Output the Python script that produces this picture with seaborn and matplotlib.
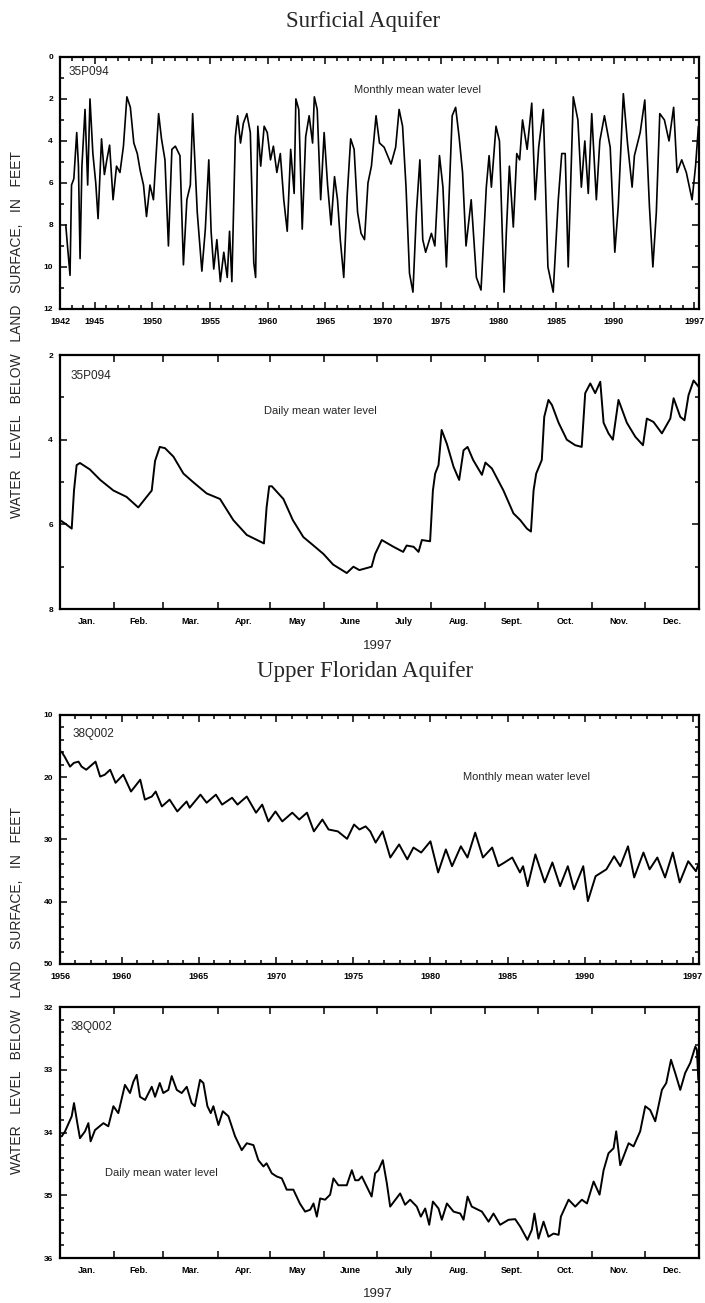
import numpy as np
import pandas as pd
import matplotlib
matplotlib.use('Agg')
import matplotlib.pyplot as plt
import seaborn as sns
from matplotlib.ticker import MultipleLocator

sns.set_theme(style='ticks')
plt.rcParams['font.family'] = ['Liberation Sans', 'DejaVu Sans']

# 35P094 月均水位（地表以下，英尺），读图估计
surf_month_year = [1942.5, 1942.65, 1942.87, 1943.0, 1943.2, 1943.45, 1943.6, 1943.74, 1943.9,
                   1944.17, 1944.4, 1944.6, 1944.85, 1945.1, 1945.3, 1945.6, 1945.85, 1946.06,
                   1946.3, 1946.6, 1946.9, 1947.2, 1947.5, 1947.8, 1948.1, 1948.4, 1948.7,
                   1948.95, 1949.24, 1949.5, 1949.8, 1950.1, 1950.55, 1950.8, 1951.1, 1951.4,
                   1951.7, 1952.0, 1952.4, 1952.7, 1953.0, 1953.3, 1953.5, 1953.9, 1954.3,
                   1954.6, 1954.9, 1955.1, 1955.33, 1955.6, 1955.9, 1956.2, 1956.5, 1956.7,
                   1956.9, 1957.2, 1957.4, 1957.65, 1957.9, 1958.2, 1958.5, 1958.8, 1958.96,
                   1959.15, 1959.4, 1959.7, 1959.97, 1960.25, 1960.5, 1960.8, 1961.1, 1961.4,
                   1961.7, 1962.0, 1962.3, 1962.45, 1962.7, 1963.0, 1963.3, 1963.6, 1963.9,
                   1964.05, 1964.3, 1964.6, 1964.9, 1965.2, 1965.5, 1965.8, 1966.06, 1966.3,
                   1966.6, 1966.9, 1967.2, 1967.5, 1967.8, 1968.1, 1968.4, 1968.7, 1969.0,
                   1969.4, 1969.7, 1970.1, 1970.4, 1970.7, 1971.1, 1971.4, 1971.7, 1972.0,
                   1972.3, 1972.6, 1972.9, 1973.2, 1973.45, 1973.7, 1974.2, 1974.5, 1974.9,
                   1975.2, 1975.5, 1976.0, 1976.3, 1976.6, 1976.9, 1977.2, 1977.65, 1978.1,
                   1978.5, 1978.96, 1979.2, 1979.4, 1979.8, 1980.1, 1980.5, 1980.7, 1980.96,
                   1981.3, 1981.6, 1981.85, 1982.1, 1982.5, 1982.9, 1983.2, 1983.5, 1983.9,
                   1984.3, 1984.76, 1985.2, 1985.5, 1985.8, 1986.06, 1986.5, 1986.9, 1987.2,
                   1987.5, 1987.8, 1988.1, 1988.5, 1988.8, 1989.2, 1989.7, 1990.1, 1990.4,
                   1990.84, 1991.2, 1991.6, 1991.8, 1992.3, 1992.7, 1993.1, 1993.4, 1993.7,
                   1994.0, 1994.4, 1994.8, 1995.2, 1995.5, 1995.9, 1996.3, 1996.8, 1997.1,
                   1997.35]
surf_month_level = [8.0, 9.0, 10.4, 6.1, 5.8, 3.6, 5.2, 9.6, 5.2,
                    2.5, 6.1, 2.0, 4.6, 6.0, 7.7, 3.9, 5.6, 4.9,
                    4.2, 6.8, 5.2, 5.5, 4.25, 1.9, 2.4, 4.1, 4.6,
                    5.4, 6.1, 7.6, 6.1, 6.8, 2.7, 3.9, 4.9, 9.0,
                    4.4, 4.25, 4.7, 9.9, 6.8, 6.1, 2.7, 7.4, 10.2,
                    8.2, 4.9, 8.3, 10.1, 8.7, 10.7, 9.3, 10.5, 8.3,
                    10.7, 3.8, 2.8, 4.1, 3.15, 2.7, 3.6, 9.8, 10.5,
                    3.3, 5.2, 3.3, 3.6, 4.9, 4.25, 5.5, 4.6, 6.8,
                    8.3, 4.4, 6.5, 2.0, 2.5, 8.2, 3.8, 2.8, 4.1,
                    1.9, 2.5, 6.8, 3.6, 6.1, 8.0, 5.7, 6.8, 8.7,
                    10.5, 6.6, 3.9, 4.4, 7.4, 8.4, 8.7, 6.0, 5.2,
                    2.8, 4.1, 4.3, 4.7, 5.1, 4.3, 2.5, 3.3, 6.2,
                    10.3, 11.2, 7.4, 4.9, 8.7, 9.3, 8.4, 9.0, 4.7,
                    6.2, 10.0, 2.8, 2.4, 3.8, 5.5, 9.0, 6.8, 10.5,
                    11.1, 6.2, 4.7, 6.2, 3.3, 4.0, 11.2, 8.3, 5.2,
                    8.1, 4.6, 4.9, 3.0, 4.4, 2.2, 6.8, 4.3, 2.5,
                    10.0, 11.2, 6.8, 4.6, 4.6, 10.0, 1.9, 3.0, 6.2,
                    4.0, 6.5, 2.7, 6.8, 4.0, 2.8, 4.3, 9.3, 7.1,
                    1.75, 4.1, 6.2, 4.7, 3.6, 2.05, 7.1, 10.0, 7.4,
                    2.7, 3.0, 4.0, 2.4, 5.5, 4.9, 5.5, 6.8, 5.2,
                    3.3]

# 35P094 1997年日均水位
surf_day = [0, 2.9, 6.7, 8, 9.5, 11.4, 17, 23, 30.5, 38, 44.7, 49.5, 52.4, 54.3, 57, 60,
            64.8, 70.5, 76, 83.8, 91.4, 99, 106.7, 116.5, 118, 119.5, 121, 127.6, 133, 139,
            144.8, 150.5, 156, 163.8, 167.6, 171, 178, 180, 183.8, 190.5, 196, 198, 202,
            204.8, 206.7, 211.4, 213, 214.3, 216.2, 218, 221, 224.8, 228, 230.5, 232.8, 236,
            241, 243, 246.7, 253.3, 259, 262.9, 266.7, 269, 270.5, 272, 275.2, 276.6, 279,
            281, 284.8, 289.5, 294.3, 298, 300, 302.9, 305.7, 308.6, 310.5, 313.3, 315.8,
            319, 323.8, 328.6, 333, 335.2, 339, 343.8, 348.6, 350.5, 354.3, 356.7, 359,
            361.9, 364.8]
surf_day_level = [5.9, 5.98, 6.1, 5.2, 4.6, 4.55, 4.7, 4.95, 5.2, 5.35, 5.6, 5.35, 5.2, 4.5, 4.17, 4.2,
                  4.4, 4.8, 5.0, 5.27, 5.4, 5.9, 6.25, 6.45, 5.6, 5.1, 5.1, 5.4, 5.9, 6.3,
                  6.5, 6.7, 6.95, 7.15, 7.0, 7.08, 7.0, 6.7, 6.37, 6.53, 6.65, 6.5, 6.53,
                  6.65, 6.37, 6.4, 5.2, 4.8, 4.6, 3.77, 4.1, 4.64, 4.95, 4.25, 4.17, 4.48,
                  4.83, 4.54, 4.68, 5.2, 5.74, 5.9, 6.1, 6.17, 5.2, 4.8, 4.48, 3.46, 3.06,
                  3.18, 3.6, 4.0, 4.13, 4.17, 2.9, 2.67, 2.9, 2.63, 3.6, 3.85, 4.0,
                  3.06, 3.6, 3.93, 4.13, 3.5, 3.58, 3.85, 3.5, 3.02, 3.46, 3.54, 2.95,
                  2.6, 2.75]

# 38Q002 月均水位
flor_month_year = [1956.1, 1956.3, 1956.65, 1956.9, 1957.2, 1957.4, 1957.7, 1958.3, 1958.6,
                   1958.9, 1959.25, 1959.6, 1960.1, 1960.6, 1961.2, 1961.5, 1961.95, 1962.2,
                   1962.6, 1963.1, 1963.6, 1964.2, 1964.4, 1965.1, 1965.5, 1966.1, 1966.5,
                   1967.15, 1967.5, 1968.1, 1968.7, 1969.1, 1969.5, 1969.96, 1970.4, 1971.05,
                   1971.5, 1972.0, 1972.45, 1973.0, 1973.4, 1974.0, 1974.6, 1975.05, 1975.4,
                   1975.8, 1976.1, 1976.45, 1976.9, 1977.4, 1977.97, 1978.5, 1978.9, 1979.4,
                   1980.0, 1980.5, 1981.0, 1981.4, 1981.97, 1982.4, 1982.9, 1983.4, 1984.0,
                   1984.4, 1984.8, 1985.3, 1985.8, 1986.0, 1986.3, 1986.8, 1987.4, 1987.9,
                   1988.4, 1988.9, 1989.3, 1989.9, 1990.2, 1990.7, 1991.4, 1991.9, 1992.3,
                   1992.8, 1993.2, 1993.8, 1994.2, 1994.7, 1995.2, 1995.7, 1996.15, 1996.7,
                   1997.2, 1997.4]
flor_month_level = [15.9, 16.7, 18.3, 17.7, 17.5, 18.3, 18.8, 17.5, 19.9,
                    19.6, 18.8, 20.9, 19.6, 22.3, 20.4, 23.6, 23.1, 22.3,
                    24.7, 23.6, 25.5, 23.9, 24.9, 22.8, 24.1, 22.8, 24.4,
                    23.3, 24.4, 23.1, 25.7, 24.4, 27.1, 25.5, 27.1, 25.7,
                    26.8, 25.7, 28.7, 26.8, 28.4, 28.7, 29.9, 27.6, 28.4,
                    27.9, 28.7, 30.5, 28.7, 32.9, 30.8, 33.2, 31.3, 32.1,
                    30.3, 35.3, 31.6, 34.3, 31.1, 32.9, 28.9, 32.9, 31.3,
                    34.3, 33.7, 32.9, 35.3, 34.3, 37.5, 32.4, 36.9, 33.7,
                    37.5, 34.3, 38.0, 34.3, 39.9, 35.9, 34.8, 32.7, 34.3,
                    31.1, 36.1, 32.1, 34.8, 32.9, 36.1, 32.1, 36.9, 33.5,
                    35.1, 33.7]

# 38Q002 1997年日均水位
flor_day = [1, 2.9, 6.7, 8, 9.9, 11.4, 14.3, 16.2, 17.5, 20, 24.8, 27.6, 30.5, 33.3, 37.1, 40,
            41.9, 43.8, 45.7, 48.6, 52.4, 54.3, 57, 59, 61.9, 63.8, 66.7, 69.5, 72.4, 75.2,
            77, 80, 81.9, 84.2, 86.1, 87.6, 90.5, 93, 96.2, 100, 103.8, 106.7, 110.5, 113.3,
            116.2, 118, 121, 123.8, 126.7, 129.5, 133.3, 137, 140, 142.9, 144.8, 146.7,
            148.6, 151.4, 154.3, 156.2, 159, 163.8, 166.7, 168.6, 170.5, 172.4, 178, 180,
            181.9, 184.4, 186.7, 188.6, 194.3, 197.1, 200, 203.8, 206.1, 208.6, 210.9, 213,
            216.2, 218.1, 221, 224.8, 228.6, 230.5, 232.8, 235.2, 241, 244.8, 247.6, 251.4,
            256.2, 260, 262.9, 267, 269.5, 271, 273.3, 276.2, 279, 281.9, 284.8, 286.1,
            290.5, 294.3, 298.1, 301, 304.8, 308.2, 310.5, 313.3, 316.2, 317.7, 320, 324.8,
            327.6, 331.4, 334.3, 337.1, 340, 343.8, 346.3, 349, 351.4, 354.3, 357.1, 360,
            362.9, 363.8, 364.6]
flor_day_level = [34.06, 33.98, 33.74, 33.53, 33.85, 34.09, 33.98, 33.85, 34.14, 33.96, 33.85, 33.9,
                  33.58, 33.69, 33.24, 33.37, 33.19, 33.08, 33.43, 33.48, 33.27, 33.43, 33.21,
                  33.37, 33.32, 33.1, 33.32, 33.37, 33.27, 33.53, 33.58, 33.16, 33.21, 33.58,
                  33.69, 33.58, 33.88, 33.66, 33.74, 34.06, 34.28, 34.17, 34.2, 34.44, 34.54,
                  34.49, 34.65, 34.7, 34.73, 34.91, 34.91, 35.13, 35.26, 35.23, 35.13, 35.34,
                  35.05, 35.07, 34.99, 34.73, 34.84, 34.84, 34.6, 34.76, 34.76, 34.7, 35.02,
                  34.65, 34.6, 34.44, 34.81, 35.18, 34.97, 35.15, 35.07, 35.18, 35.34, 35.21,
                  35.47, 35.1, 35.21, 35.39, 35.13, 35.26, 35.29, 35.39, 35.02, 35.18, 35.26,
                  35.42, 35.29, 35.47, 35.39, 35.38, 35.5, 35.71, 35.55, 35.29, 35.69, 35.42,
                  35.66, 35.61, 35.63, 35.34, 35.07, 35.18, 35.07, 35.13, 34.78, 34.99, 34.6,
                  34.33, 34.25, 33.98, 34.52, 34.17, 34.22, 33.98, 33.58, 33.64, 33.82, 33.32,
                  33.21, 32.84, 33.05, 33.32, 33.05, 32.89, 32.63, 32.68, 33.16]

surf_year_ticks = [1942, 1945, 1950, 1955, 1960, 1965, 1970, 1975, 1980, 1985, 1990, 1997]
flor_year_ticks = [1956, 1960, 1965, 1970, 1975, 1980, 1985, 1990, 1997]
month_names = ['Jan.', 'Feb.', 'Mar.', 'Apr.', 'May', 'June', 'July', 'Aug.', 'Sept.', 'Oct.', 'Nov.', 'Dec.']
month_starts = [0, 31, 59, 90, 120, 151, 181, 212, 243, 273, 304, 334, 365]

fig = plt.figure(figsize=(7.05, 13.03), dpi=100)
ax1 = fig.add_axes([0.0851, 0.7629, 0.9064, 0.1934])
ax2 = fig.add_axes([0.0851, 0.5326, 0.9064, 0.1949])
ax3 = fig.add_axes([0.0851, 0.2602, 0.9064, 0.1911])
ax4 = fig.add_axes([0.0851, 0.0345, 0.9064, 0.1926])

lw = 1.4
sns.lineplot(x=surf_month_year, y=surf_month_level, ax=ax1, color='black', lw=1.2, sort=False, estimator=None)
sns.lineplot(x=surf_day, y=surf_day_level, ax=ax2, color='black', lw=lw, sort=False, estimator=None)
sns.lineplot(x=flor_month_year, y=flor_month_level, ax=ax3, color='black', lw=lw, sort=False, estimator=None)
sns.lineplot(x=flor_day, y=flor_day_level, ax=ax4, color='black', lw=lw, sort=False, estimator=None)


def style_axes(ax):
    for s in ax.spines.values():
        s.set_visible(True)
        s.set_linewidth(1.6)
        s.set_color('black')
    ax.tick_params(which='both', direction='in', top=True, right=True, colors='black', width=1.1)
    ax.tick_params(which='major', length=5)
    ax.tick_params(which='minor', length=3)
    ax.tick_params(axis='x', pad=6)
    ax.tick_params(axis='y', pad=5)
    ax.set_xlabel('')
    ax.set_ylabel('')
    ax.grid(False)


def year_axis(ax, lo, hi, ticks):
    ax.set_xlim(lo, hi)
    ax.set_xticks(ticks, labels=[str(t) for t in ticks], fontsize=6.5, fontweight='bold')
    ax.xaxis.set_minor_locator(MultipleLocator(1))


def month_axis(ax):
    ax.set_xlim(0, 365)
    ax.set_xticks(month_starts, labels=[''] * len(month_starts))
    mids = [(month_starts[i] + month_starts[i + 1]) / 2 for i in range(12)]
    ax.set_xticks(mids, labels=month_names, minor=True, fontsize=6.5, fontweight='bold')


def level_axis(ax, lo, hi, step, minor):
    ax.set_ylim(hi, lo)
    ticks = list(range(lo, hi + 1, step))
    ax.set_yticks(ticks, labels=[str(t) for t in ticks], fontsize=6, fontweight='bold')
    ax.yaxis.set_minor_locator(MultipleLocator(minor))


year_axis(ax1, 1942, 1997.4, surf_year_ticks)
level_axis(ax1, 0, 12, 2, 1)
month_axis(ax2)
level_axis(ax2, 2, 8, 2, 1)
year_axis(ax3, 1956, 1997.4, flor_year_ticks)
level_axis(ax3, 10, 50, 10, 2)
month_axis(ax4)
level_axis(ax4, 32, 36, 1, 0.2)

for ax in [ax1, ax2, ax3, ax4]:
    style_axes(ax)

# 月份标签处不画刻度线
for ax in [ax2, ax4]:
    ax.tick_params(axis='x', which='minor', length=0, pad=6)

# 标注
ax1.text(0.013, 0.94, '35P094', transform=ax1.transAxes, fontsize=8.5, va='center', ha='left')
ax1.text(0.46, 0.87, 'Monthly mean water level', transform=ax1.transAxes, fontsize=8, va='center', ha='left')
ax2.text(0.016, 0.917, '35P094', transform=ax2.transAxes, fontsize=8.5, va='center', ha='left')
ax2.text(0.32, 0.78, 'Daily mean water level', transform=ax2.transAxes, fontsize=8, va='center', ha='left')
ax3.text(0.019, 0.924, '38Q002', transform=ax3.transAxes, fontsize=8.5, va='center', ha='left')
ax3.text(0.63, 0.75, 'Monthly mean water level', transform=ax3.transAxes, fontsize=8, va='center', ha='left')
ax4.text(0.016, 0.92, '38Q002', transform=ax4.transAxes, fontsize=8.5, va='center', ha='left')
ax4.text(0.07, 0.34, 'Daily mean water level', transform=ax4.transAxes, fontsize=8, va='center', ha='left')

fig.text(363 / 705, 1 - 22 / 1303, 'Surficial Aquifer', fontsize=16.5, family=['Liberation Serif', 'DejaVu Serif'],
         ha='center', va='center')
fig.text(365 / 705, 1 - 672 / 1303, 'Upper Floridan Aquifer', fontsize=16.5, family=['Liberation Serif', 'DejaVu Serif'],
         ha='center', va='center')
fig.text(378 / 705, 1 - 646 / 1303, '1997', fontsize=9.5, ha='center', va='center')
fig.text(378 / 705, 1 - 1294 / 1303, '1997', fontsize=9.5, ha='center', va='center')

ylab = 'WATER   LEVEL   BELOW   LAND   SURFACE,   IN   FEET'
fig.text(17 / 705, 1 - 334 / 1303, ylab, rotation=90, fontsize=10, ha='center', va='center')
fig.text(17 / 705, 1 - 990 / 1303, ylab, rotation=90, fontsize=10, ha='center', va='center')

fig.savefig('out.png', dpi=100, facecolor='white')
